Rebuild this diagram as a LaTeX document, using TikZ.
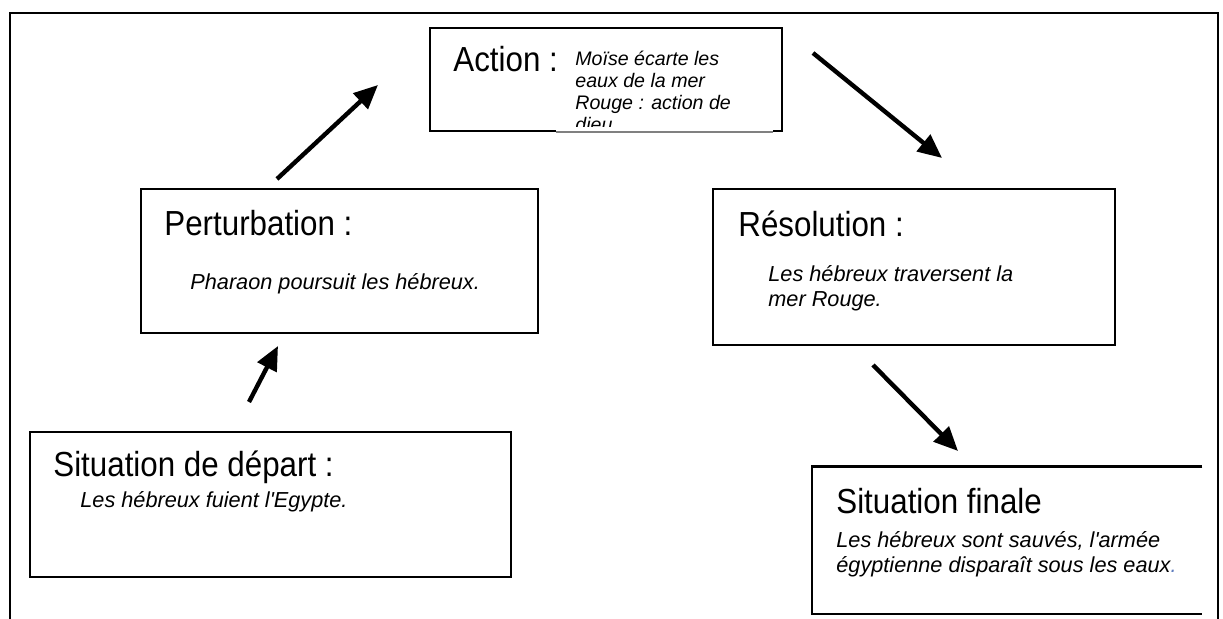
\documentclass[tikz,border=0pt]{standalone}
\usepackage{fontspec}
\setmainfont{Liberation Sans}
\newfontfamily\titrefont{Liberation Sans}[FakeStretch=0.9]
\usetikzlibrary{arrows.meta,positioning,fit,calc}
\definecolor{pointbleu}{RGB}{95,125,190}

\begin{document}
\begin{tikzpicture}[x=0.5pt,y=-0.5pt,
  etape/.style={line width=1.25pt,inner sep=0pt},
  titre/.style={anchor=west,inner sep=0pt,font=\titrefont\fontsize{17.4}{20}\selectfont},
  texte/.style={anchor=west,inner sep=0pt,align=left,font=\fontsize{10.85}{12.7}\selectfont\itshape},
  fleche/.style={line width=2.2pt,-{Triangle[length=12pt,width=10.5pt]}},
]
\useasboundingbox (0,0) rectangle (1223,619);
% cadre
\draw[line width=1pt] (10,619) |- (1218,13) -- (1218,619);

% les boites
\node[etape,draw,fit={(430,28) (782,131)}] (action) {};
\node[etape,draw,fit={(141,189) (538,333)}] (perturb) {};
\node[etape,draw,fit={(713,189) (1115,345)}] (resol) {};
\node[etape,draw,fit={(30,432) (511,577)}] (depart) {};
\node[etape,fit={(813,468) (1201,613)}] (finale) {};
\draw[line width=1.25pt] (finale.north east) -| (finale.south west) -- (finale.south east);

% textes
\node[titre] (t-action) at (453,59) {Action :};
\begin{scope}
\clip (556,28) rectangle (773,127);
\node[texte,anchor=north west,font=\fontsize{9.8}{10.9}\selectfont\itshape] (x-action) at (575,51)
  {Moïse écarte les\\eaux de la mer\\Rouge : action de\\dieu};
\end{scope}
\fill[white] (556,128) rectangle (773,135);
\draw[gray,line width=0.6pt] (556,132) -- (773,132);

\node[titre] (t-perturb) at (164,223) {Perturbation :};
\node[texte] (x-perturb) at (190,284) {Pharaon poursuit les hébreux.};

\node[titre] (t-resol) at (738,224) {Résolution :};
\node[texte] (x-resol) at (768,288) {Les hébreux traversent la\\mer Rouge.};

\node[titre] (t-depart) at (53,467) {Situation de départ :};
\node[texte] (x-depart) at (80,502) {Les hébreux fuient l\textquotesingle Egypte.};

\node[titre] (t-finale) at (836,501) {Situation finale};
\node[texte] (x-finale) at (836,554) {Les hébreux sont sauvés, l\textquotesingle armée\\égyptienne disparaît sous les eaux\textcolor{pointbleu}{.}};

% fleches
\coordinate (d1) at (249,402); \coordinate (a1) at (278,346);
\coordinate (d2) at (277,179); \coordinate (a2) at (378,85);
\coordinate (d3) at (813,53);  \coordinate (a3) at (942,158);
\coordinate (d4) at (873,365); \coordinate (a4) at (958,451);
\draw[fleche] (d1) -- (a1);
\draw[fleche] (d2) -- (a2);
\draw[fleche] (d3) -- (a3);
\draw[fleche] (d4) -- (a4);
\end{tikzpicture}
\end{document}
